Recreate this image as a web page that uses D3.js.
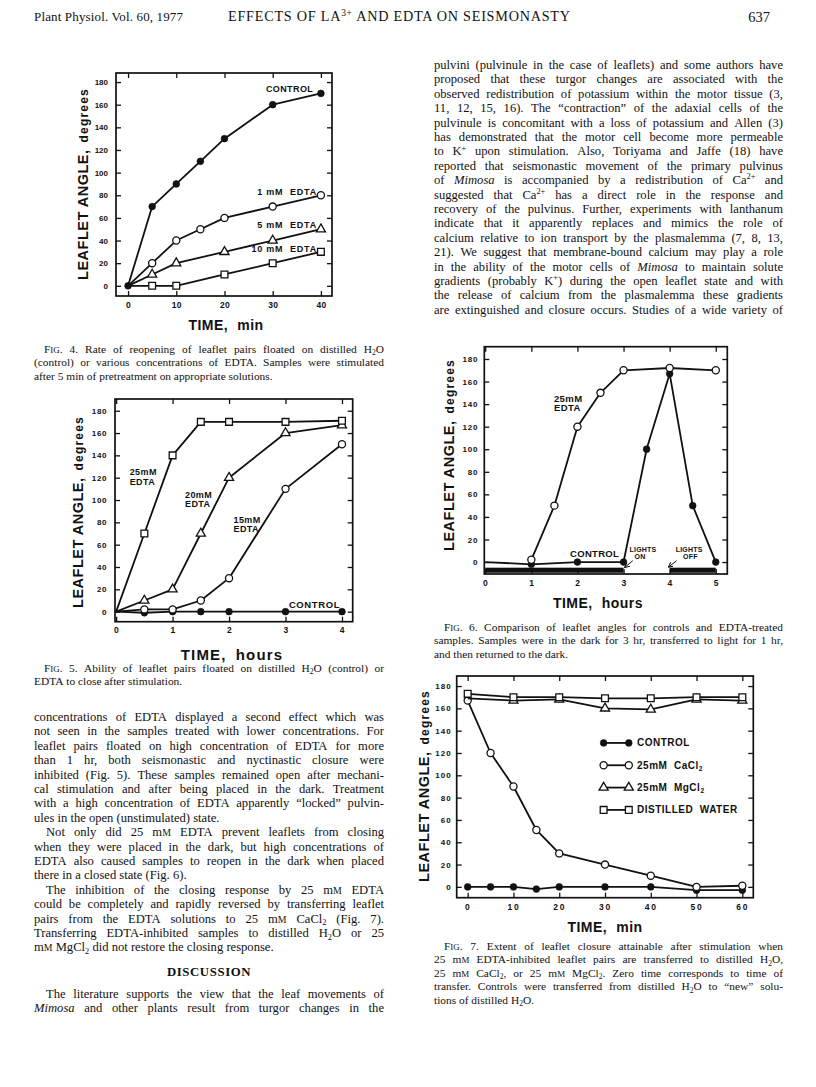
<!DOCTYPE html>
<html>
<head>
<meta charset="utf-8">
<script src="https://cdn.jsdelivr.net/npm/d3@7"></script>
<style>
  body { margin: 0; background: #fff; }
  svg { display: block; }
</style>
</head>
<body>
<svg id="page" width="816" height="1087"></svg>
<script>
// ---------- data ----------
const angleTicks = [0, 20, 40, 60, 80, 100, 120, 140, 160, 180];

// Fig. 4 (min)
const fig4TimeTicks = [0, 10, 20, 30, 40];
const fig4Time = [0, 5, 10, 15, 20, 30, 40];
const fig4Control = [0, 70, 90, 110, 130, 160, 170];
const fig4Edta1 = [0, 20, 40, 50, 60, 70, 80];
const fig4TimeB = [0, 5, 10, 20, 30, 40];
const fig4Edta5 = [0, 10, 20, 30, 40, 50];
const fig4Edta10 = [0, 0, 0, 10, 20, 30];

// Fig. 5 (hours)
const fig5TimeTicks = [0, 1, 2, 3, 4];
const fig5Time = [0, 0.5, 1, 1.5, 2, 3, 4];
const fig5Edta25 = [0, 70, 140, 170, 170, 170, 171];
const fig5Edta20 = [0, 10, 20, 70, 120, 160, 167];
const fig5Edta15 = [0, 2, 2, 10, 30, 110, 150];
const fig5Control = [0, -1, 0, 0, 0, 0, 0];

// Fig. 6 (hours)
const fig6TimeTicks = [0, 1, 2, 3, 4, 5];
const fig6Time = [0, 1, 2, 3, 3.5, 4, 4.5, 5];
const fig6Control = [0, -2, 0, 0, 100, 167, 50, 0];
const fig6EdtaTime = [1, 1.5, 2, 2.5, 3, 4, 5];
const fig6Edta25 = [2, 50, 120, 150, 170, 172, 170];
const fig6DarkStart = [0, 4];
const fig6DarkEnd = [3, 5];

// Fig. 7 (min)
const fig7TimeTicks = [0, 10, 20, 30, 40, 50, 60];
const fig7Time = [0, 5, 10, 15, 20, 30, 40, 50, 60];
const fig7Control = [0, 0, 0, -2, 0, 0, 0, -3, -3];
const fig7CaCl2 = [167, 120, 90, 51, 30, 20, 10, 0, 1];
const fig7TimeB = [0, 10, 20, 30, 40, 50, 60];
const fig7MgCl2 = [169, 167, 168, 160, 159, 168, 167];
const fig7Water = [173, 170, 170, 169, 169, 170, 170];
const fig7LegendNames = ['CONTROL', '25mM  CaCl{sub:2}', '25mM  MgCl{sub:2}', 'DISTILLED  WATER'];
const fig7LegendMarks = ['dot', 'ring', 'tri', 'sq'];

// ---------- text of the page ----------
const headerLeft = 'Plant Physiol. Vol. 60, 1977';
const headerMid = 'EFFECTS OF LA{sup:3+} AND EDTA ON SEISMONASTY';
const headerPage = '637';

const caption4 = [
  'F{sc:IG}. 4. Rate of reopening of leaflet pairs floated on distilled H{sub:2}O',
  '(control) or various concentrations of EDTA. Samples were stimulated',
  'after 5 min of pretreatment on appropriate solutions.'
];
const caption5 = [
  'F{sc:IG}. 5. Ability of leaflet pairs floated on distilled H{sub:2}O (control) or',
  'EDTA to close after stimulation.'
];
const caption6 = [
  'F{sc:IG}. 6. Comparison of leaflet angles for controls and EDTA-treated',
  'samples. Samples were in the dark for 3 hr, transferred to light for 1 hr,',
  'and then returned to the dark.'
];
const caption7 = [
  'F{sc:IG}. 7. Extent of leaflet closure attainable after stimulation when',
  '25 m{sc:M} EDTA-inhibited leaflet pairs are transferred to distilled H{sub:2}O,',
  '25 m{sc:M} CaCl{sub:2}, or 25 m{sc:M} MgCl{sub:2}. Zero time corresponds to time of',
  'transfer. Controls were transferred from distilled H{sub:2}O to \u201cnew\u201d solu-',
  'tions of distilled H{sub:2}O.'
];

const leftPara1 = [
  'concentrations of EDTA displayed a second effect which was',
  'not seen in the samples treated with lower concentrations. For',
  'leaflet pairs floated on high concentration of EDTA for more',
  'than 1 hr, both seismonastic and nyctinastic closure were',
  'inhibited (Fig. 5). These samples remained open after mechani-',
  'cal stimulation and after being placed in the dark. Treatment',
  'with a high concentration of EDTA apparently \u201clocked\u201d pulvin-',
  'ules in the open (unstimulated) state.'
];
const leftPara2 = [
  'Not only did 25 m{sc:M} EDTA prevent leaflets from closing',
  'when they were placed in the dark, but high concentrations of',
  'EDTA also caused samples to reopen in the dark when placed',
  'there in a closed state (Fig. 6).'
];
const leftPara3 = [
  'The inhibition of the closing response by 25 m{sc:M} EDTA',
  'could be completely and rapidly reversed by transferring leaflet',
  'pairs from the EDTA solutions to 25 m{sc:M} CaCl{sub:2} (Fig. 7).',
  'Transferring EDTA-inhibited samples to distilled H{sub:2}O or 25',
  'm{sc:M} MgCl{sub:2} did not restore the closing response.'
];
const leftPara4 = [
  'The literature supports the view that the leaf movements of',
  '{i:Mimosa} and other plants result from turgor changes in the'
];
const rightPara = [
  'pulvini (pulvinule in the case of leaflets) and some authors have',
  'proposed that these turgor changes are associated with the',
  'observed redistribution of potassium within the motor tissue (3,',
  '11, 12, 15, 16). The \u201ccontraction\u201d of the adaxial cells of the',
  'pulvinule is concomitant with a loss of potassium and Allen (3)',
  'has demonstrated that the motor cell become more permeable',
  'to K{sup:+} upon stimulation. Also, Toriyama and Jaffe (18) have',
  'reported that seismonastic movement of the primary pulvinus',
  'of {i:Mimosa} is accompanied by a redistribution of Ca{sup:2+} and',
  'suggested that Ca{sup:2+} has a direct role in the response and',
  'recovery of the pulvinus. Further, experiments with lanthanum',
  'indicate that it apparently replaces and mimics the role of',
  'calcium relative to ion transport by the plasmalemma (7, 8, 13,',
  '21). We suggest that membrane-bound calcium may play a role',
  'in the ability of the motor cells of {i:Mimosa} to maintain solute',
  'gradients (probably K{sup:+}) during the open leaflet state and with',
  'the release of calcium from the plasmalemma these gradients',
  'are extinguished and closure occurs. Studies of a wide variety of'
];

// ---------- helpers ----------
const svg = d3.select('#page');
const ink = '#111';
const serif = '"Liberation Serif", "Times New Roman", serif';
const chartFont = '"Liberation Sans", Arial, sans-serif';

svg.append('rect').attr('width', 816).attr('height', 1087).attr('fill', '#fff');

svg.append('defs').append('marker')
  .attr('id', 'arrow').attr('viewBox', '0 0 10 10').attr('refX', 9).attr('refY', 5)
  .attr('markerWidth', 5).attr('markerHeight', 5).attr('orient', 'auto')
  .append('path').attr('d', 'M0,0 L10,5 L0,10').attr('fill', 'none')
  .attr('stroke', ink).attr('stroke-width', 2);

// tiny markup: {i:..} italic, {sup:..}, {sub:..}, {sc:..} small capital
const tokenRe = /\{(i|sup|sub|sc|b):([^}]*)\}/g;
function parseRich(str) {
  const out = [];
  let last = 0, m;
  tokenRe.lastIndex = 0;
  while ((m = tokenRe.exec(str))) {
    if (m.index > last) out.push({ t: 'n', s: str.slice(last, m.index) });
    out.push({ t: m[1], s: m[2] });
    last = tokenRe.lastIndex;
  }
  if (last < str.length) out.push({ t: 'n', s: str.slice(last) });
  return out;
}

function addRich(textSel, str, fs) {
  let shift = 0;
  parseRich(str).forEach(p => {
    const ts = textSel.append('tspan').text(p.s);
    let target = 0;
    if (p.t === 'sup') { ts.attr('font-size', fs * 0.66); target = -fs * 0.38; }
    else if (p.t === 'sub') { ts.attr('font-size', fs * 0.66); target = fs * 0.22; }
    else if (p.t === 'sc') ts.attr('font-size', fs * 0.78);
    else if (p.t === 'i') ts.attr('font-style', 'italic');
    else if (p.t === 'b') ts.attr('font-weight', 'bold');
    if (target !== shift) { ts.attr('dy', target - shift); shift = target; }
  });
  return textSel;
}

// one line of justified (or ragged) serif text, word by word
function setLine(g, str, x, y, width, fs, justify, indent) {
  const words = str.split(' ');
  const nodes = words.map(w => addRich(g.append('text').attr('y', y), w, fs));
  const widths = nodes.map(n => n.node().getComputedTextLength());
  const avail = width - indent;
  let gap = fs * 0.25;
  if (justify && words.length > 1) gap = Math.max(1.5, (avail - d3.sum(widths)) / (words.length - 1));
  let cx = x + indent;
  nodes.forEach((n, i) => { n.attr('x', cx); cx += widths[i] + gap; });
}

// a block of lines: first line indented, last line ragged unless it runs on
function setBlock(lines, opt) {
  const g = svg.append('g')
    .attr('font-family', serif).attr('font-size', opt.fs).attr('fill', ink);
  lines.forEach((s, i) => {
    const last = i === lines.length - 1;
    setLine(g, s, opt.x, opt.y + i * opt.lh, opt.width, opt.fs,
      !last || opt.runOn, i === 0 && opt.indent ? opt.indent : 0);
  });
}

const symbols = {
  dot: d3.symbol().type(d3.symbolCircle).size(36),
  ring: d3.symbol().type(d3.symbolCircle).size(40),
  tri: d3.symbol().type(d3.symbolTriangle).size(36),
  sq: d3.symbol().type(d3.symbolSquare).size(46)
};

function drawMark(g, type, px, py) {
  g.append('path').attr('d', symbols[type]())
    .attr('transform', `translate(${px},${py})`)
    .attr('fill', type === 'dot' ? ink : '#fff')
    .attr('stroke', ink).attr('stroke-width', type === 'dot' ? 0.6 : 1.3);
}

function makeFrame(o) {
  const g = svg.append('g');
  const x = d3.scaleLinear().domain(o.xDomain).range(o.xRange);
  const y = d3.scaleLinear().domain(o.yDomain).range(o.yRange);
  const [left, right] = o.xRange;
  const [bottom, top] = o.yRange;

  const style = s => {
    s.attr('font-family', chartFont).attr('font-weight', 'bold').attr('color', ink);
    s.select('.domain').remove();
    s.selectAll('.tick line').attr('stroke-width', 1.3);
  };
  g.append('g').attr('transform', `translate(${left},0)`)
    .call(d3.axisLeft(y).tickValues(angleTicks).tickSize(-5).tickPadding(o.yPad).tickFormat(d3.format('d')))
    .call(style)
    .call(s => s.selectAll('.tick text').attr('font-size', o.yFont).attr('letter-spacing', o.yLs));
  g.append('g').attr('transform', `translate(${right},0)`)
    .call(d3.axisRight(y).tickValues(angleTicks).tickSize(-5).tickFormat(''))
    .call(style);
  g.append('g').attr('transform', `translate(0,${bottom})`)
    .call(d3.axisBottom(x).tickValues(o.xTicks).tickSize(-5).tickPadding(o.xPad).tickFormat(d3.format('d')))
    .call(style)
    .call(s => s.selectAll('.tick text').attr('font-size', o.xFont).attr('letter-spacing', o.xLs));
  g.append('g').attr('transform', `translate(0,${top})`)
    .call(d3.axisTop(x).tickValues(o.xTicks).tickSize(-5).tickFormat(''))
    .call(style);

  g.append('rect')
    .attr('x', left).attr('y', top).attr('width', right - left).attr('height', bottom - top)
    .attr('fill', 'none').attr('stroke', ink).attr('stroke-width', 1.7);

  // y title
  const yt = g.append('text')
    .attr('transform', `translate(${o.yTitle[0]},${o.yTitle[1]}) rotate(-90)`)
    .attr('text-anchor', 'middle').attr('font-family', chartFont).attr('font-weight', 'bold')
    .attr('fill', ink);
  yt.append('tspan').attr('font-size', 14.5).attr('letter-spacing', 0.5).text('LEAFLET ANGLE,');
  yt.append('tspan').attr('dx', 7).attr('font-size', 12).attr('letter-spacing', 1.2).text('degrees');

  // x title
  const xt = g.append('text')
    .attr('x', o.xTitle[0]).attr('y', o.xTitle[1])
    .attr('text-anchor', 'middle').attr('font-family', chartFont).attr('font-weight', 'bold')
    .attr('font-size', o.xTitleFont || 14).attr('letter-spacing', o.xTitleLs || 0.5).attr('fill', ink);
  xt.append('tspan').text('TIME,');
  xt.append('tspan').attr('dx', 9).text(o.unit);

  return { g, x, y };
}

function drawSeries(fig, times, values, mark, markFrom) {
  const pts = d3.zip(times, values);
  const line = d3.line().x(d => fig.x(d[0])).y(d => fig.y(d[1]));
  fig.g.append('path').datum(pts).attr('d', line)
    .attr('fill', 'none').attr('stroke', ink).attr('stroke-width', 1.8)
    .attr('stroke-linejoin', 'round');
  pts.slice(markFrom || 0).forEach(d => drawMark(fig.g, mark, fig.x(d[0]), fig.y(d[1])));
}

function label(fig, lines, xv, yv, opt) {
  const o = Object.assign({ fs: 9, lh: 9, anchor: 'start', ls: 0.4 }, opt);
  const t = fig.g.append('text')
    .attr('font-family', chartFont).attr('font-weight', 'bold').attr('font-size', o.fs)
    .attr('letter-spacing', o.ls).attr('text-anchor', o.anchor).attr('fill', ink)
    .attr('xml:space', 'preserve');
  lines.forEach((s, i) => {
    const ts = t.append('tspan').attr('x', fig.x(xv)).attr('y', fig.y(yv) + o.fs * 0.35 + i * o.lh);
    addRich(ts, s, o.fs);
  });
}

// ---------- header ----------
svg.append('text').attr('x', 34).attr('y', 21)
  .attr('font-family', serif).attr('font-size', 13).attr('fill', ink)
  .attr('textLength', 149).attr('lengthAdjust', 'spacing').text(headerLeft);
addRich(svg.append('text').attr('x', 228).attr('y', 21)
  .attr('font-family', serif).attr('font-size', 14.2).attr('fill', ink)
  .attr('textLength', 342).attr('lengthAdjust', 'spacing'), headerMid, 14.2);
svg.append('text').attr('x', 770).attr('y', 22).attr('text-anchor', 'end')
  .attr('font-family', serif).attr('font-size', 14.5).attr('fill', ink).text(headerPage);

// ---------- Fig. 4 ----------
const f4 = makeFrame({
  xDomain: [-2.5, 42.3], xRange: [116, 332],
  yDomain: [-9, 188], yRange: [296, 73],
  xTicks: fig4TimeTicks, unit: 'min',
  yPad: 8, xPad: 6, yFont: 8, yLs: 0, xFont: 8.5, xLs: 0.3,
  yTitle: [88, 184], xTitle: [226, 330]
});
drawSeries(f4, fig4Time, fig4Control, 'dot', 0);
drawSeries(f4, fig4Time, fig4Edta1, 'ring', 1);
drawSeries(f4, fig4TimeB, fig4Edta5, 'tri', 1);
drawSeries(f4, fig4TimeB, fig4Edta10, 'sq', 1);
label(f4, ['CONTROL'], 38.4, 174, { anchor: 'end' });
label(f4, ['1 mM  EDTA'], 39.2, 83, { anchor: 'end', ls: 0.8 });
label(f4, ['5 mM  EDTA'], 39.2, 54, { anchor: 'end', ls: 0.8 });
label(f4, ['10 mM  EDTA'], 39.2, 33, { anchor: 'end', ls: 0.8 });

// ---------- Fig. 5 ----------
const f5 = makeFrame({
  xDomain: [-0.02, 4.19], xRange: [115, 352.7],
  yDomain: [-9, 190.5], yRange: [621.7, 399],
  xTicks: fig5TimeTicks, unit: 'hours',
  yPad: 8, xPad: 5, yFont: 8, yLs: 0.6, xFont: 8.5, xLs: 0.5,
  yTitle: [83, 512], xTitle: [232, 660], xTitleFont: 15, xTitleLs: 1.2
});
drawSeries(f5, fig5Time, fig5Control, 'dot', 1);
drawSeries(f5, fig5Time, fig5Edta15, 'ring', 1);
drawSeries(f5, fig5Time, fig5Edta20, 'tri', 1);
drawSeries(f5, fig5Time, fig5Edta25, 'sq', 1);
label(f5, ['25mM', 'EDTA'], 0.24, 125, { fs: 9, lh: 9.5 });
label(f5, ['20mM', 'EDTA'], 1.22, 105, { fs: 9, lh: 9 });
label(f5, ['15mM', 'EDTA'], 2.08, 82, { fs: 9, lh: 9 });
label(f5, ['CONTROL'], 3.06, 6, { fs: 9.5, ls: 0.6 });

// ---------- Fig. 6 ----------
const f6 = makeFrame({
  xDomain: [-0.02, 5.25], xRange: [484.3, 727.3],
  yDomain: [-10.6, 190.9], yRange: [574, 346.7],
  xTicks: fig6TimeTicks, unit: 'hours',
  yPad: 6, xPad: 6, yFont: 8, yLs: 0.8, xFont: 8.5, xLs: 0.5,
  yTitle: [454, 455], xTitle: [598, 608]
});
d3.zip(fig6DarkStart, fig6DarkEnd).forEach(([a, b]) => {
  f6.g.append('rect')
    .attr('x', f6.x(a)).attr('width', f6.x(b) - f6.x(a))
    .attr('y', f6.y(-5)).attr('height', f6.y(-9.5) - f6.y(-5))
    .attr('fill', ink);
});
drawSeries(f6, fig6Time, fig6Control, 'dot', 1);
drawSeries(f6, fig6EdtaTime, fig6Edta25, 'ring', 0);
label(f6, ['25mM', 'EDTA'], 1.49, 144.5, { fs: 9.5, lh: 9 });
label(f6, ['CONTROL'], 1.84, 7.5, { fs: 9.5, ls: 0.3 });
label(f6, ['LIGHTS'], 3.13, 11.5, { fs: 7, ls: 0.2 });
label(f6, ['ON'], 3.24, 4.5, { fs: 7, ls: 0.2 });
label(f6, ['LIGHTS'], 4.13, 11.5, { fs: 7, ls: 0.2 });
label(f6, ['OFF'], 4.29, 4.5, { fs: 7, ls: 0.2 });
[[3.2, 1.2, 3.03, -4.6], [4.15, 1.2, 3.98, -4.4]].forEach(([a, b, c, d]) => {
  f6.g.append('line')
    .attr('x1', f6.x(a)).attr('y1', f6.y(b)).attr('x2', f6.x(c)).attr('y2', f6.y(d))
    .attr('stroke', ink).attr('stroke-width', 1).attr('marker-end', 'url(#arrow)');
});

// ---------- Fig. 7 ----------
const f7 = makeFrame({
  xDomain: [-2.4, 62.4], xRange: [456.7, 753.3],
  yDomain: [-9.7, 189], yRange: [897.7, 676],
  xTicks: fig7TimeTicks, unit: 'min',
  yPad: 5, xPad: 6, yFont: 8, yLs: 1, xFont: 8.5, xLs: 1.8,
  yTitle: [429, 786], xTitle: [605, 932]
});
drawSeries(f7, fig7Time, fig7Control, 'dot', 0);
drawSeries(f7, fig7Time, fig7CaCl2, 'ring', 0);
drawSeries(f7, fig7TimeB, fig7MgCl2, 'tri', 1);
drawSeries(f7, fig7TimeB, fig7Water, 'sq', 0);
const legendY = [129, 109, 89, 69];
fig7LegendNames.forEach((name, i) => {
  const ly = f7.y(legendY[i]);
  f7.g.append('line').attr('x1', f7.x(29.7)).attr('x2', f7.x(35.2))
    .attr('y1', ly).attr('y2', ly).attr('stroke', ink).attr('stroke-width', 1.8);
  drawMark(f7.g, fig7LegendMarks[i], f7.x(29.7), ly);
  drawMark(f7.g, fig7LegendMarks[i], f7.x(35.2), ly);
  label(f7, [name], 37, legendY[i], { fs: 10, ls: 0.5 });
});

// ---------- captions ----------
const capFs = 11.4, capLh = 13.5;
setBlock(caption4, { x: 34, y: 352.5, width: 350, lh: capLh, fs: capFs, indent: 10 });
setBlock(caption5, { x: 34, y: 671.5, width: 350, lh: capLh, fs: capFs, indent: 10 });
setBlock(caption6, { x: 434, y: 630.5, width: 349, lh: capLh, fs: capFs, indent: 10 });
setBlock(caption7, { x: 434, y: 949.5, width: 349, lh: capLh, fs: capFs, indent: 10 });

// ---------- body text ----------
const bodyFs = 12.6, bodyLh = 14.4;
setBlock(leftPara1, { x: 34, y: 721, width: 350, lh: bodyLh, fs: bodyFs });
setBlock(leftPara2, { x: 34, y: 721 + 8 * bodyLh, width: 350, lh: bodyLh, fs: bodyFs, indent: 12 });
setBlock(leftPara3, { x: 34, y: 721 + 12 * bodyLh, width: 350, lh: bodyLh, fs: bodyFs, indent: 12 });
svg.append('text').attr('x', 209).attr('y', 976).attr('text-anchor', 'middle')
  .attr('font-family', serif).attr('font-weight', 'bold').attr('font-size', 12.8)
  .attr('letter-spacing', 0.6).attr('fill', ink).text('DISCUSSION');
setBlock(leftPara4, { x: 34, y: 998, width: 350, lh: bodyLh, fs: bodyFs, indent: 12, runOn: true });
setBlock(rightPara, { x: 434, y: 69, width: 349, lh: bodyLh, fs: bodyFs, runOn: true });
</script>
</body>
</html>
